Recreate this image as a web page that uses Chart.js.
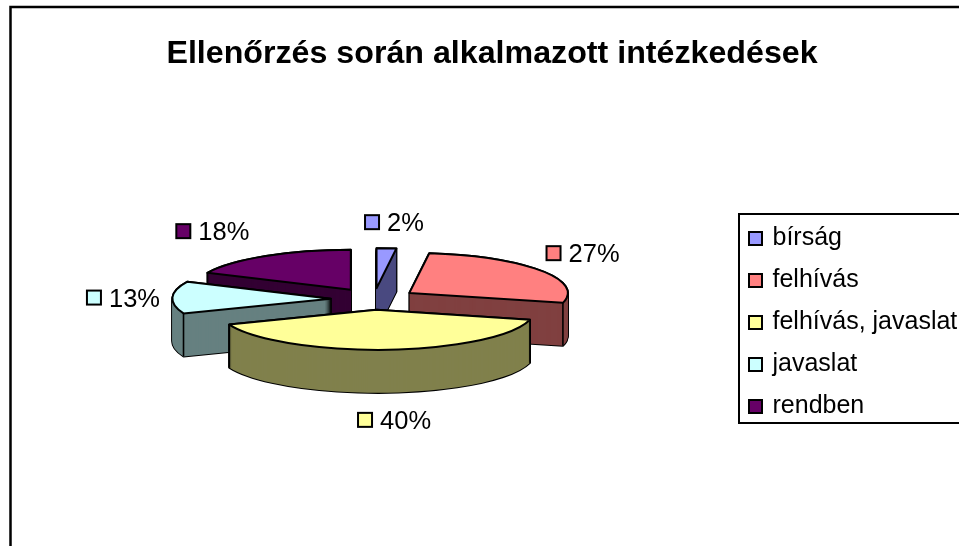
<!DOCTYPE html>
<html>
<head>
<meta charset="utf-8">
<style>html,body{margin:0;padding:0;background:#fff;overflow:hidden;width:959px;height:546px}canvas{display:block}</style>
<script src="https://cdn.jsdelivr.net/npm/chart.js@4/dist/chart.umd.min.js"></script>
</head>
<body>
<canvas id="c" width="964" height="546" style="width:964px;height:546px"></canvas>
<script>
const titleText = 'Ellenőrzés során alkalmazott intézkedések';
const categories = ['bírság', 'felhívás', 'felhívás, javaslat', 'javaslat', 'rendben'];
const values = [2, 27, 40, 13, 18];
const faceColors = ['#9999FF', '#FF8080', '#FFFF99', '#CCFFFF', '#660066'];
const sideColors = ['#4C4C80', '#804040', '#80804C', '#668080', '#330033'];
const paintOrder = [0, 4, 1, 3, 2];
const labelNudges = [[-22, 1], [-1, -2], [-29, 0], [-77, 1], [-85, -2]];

const FONT = '"Liberation Sans", Arial, sans-serif';
const SQUASH = 40 / 158.5, EXPLODE = 43, DEPTH = 43;

function slicePath(ctx, a, mid, d) {
  ctx.save();
  ctx.translate(a.x, a.y + d);
  ctx.scale(1, SQUASH);
  ctx.translate(Math.cos(mid) * EXPLODE, Math.sin(mid) * EXPLODE);
  ctx.beginPath();
  ctx.moveTo(0, 0);
  ctx.arc(0, 0, a.outerRadius, a.startAngle, a.endAngle);
  ctx.closePath();
  ctx.restore();
}

const pie3d = {
  id: 'pie3d',
  beforeDraw(chart) {
    const ctx = chart.ctx;
    ctx.save();
    ctx.strokeStyle = '#000';
    ctx.lineWidth = 2.5;
    ctx.strokeRect(10.5, 7, 3000, 3000);
    ctx.restore();
  },
  afterLayout(chart) {
    const l = chart.legend;
    l.left = 734; l.right = 734 + l.width;
    l.top = 209; l.bottom = 209 + l.height;
    const tb = chart.titleBlock;
    tb.left += 1.5; tb.right += 1.5;
  },
  beforeDatasetsDraw(chart) {
    const ctx = chart.ctx;
    const arcs = chart.getDatasetMeta(0).data;
    paintOrder.forEach(i => {
      const a = arcs[i];
      const mid = (a.startAngle + a.endAngle) / 2;
      ctx.save();
      ctx.lineJoin = 'round';
      ctx.strokeStyle = '#000';
      ctx.lineWidth = 2;
      for (let d = DEPTH; d >= 0; d--) { slicePath(ctx, a, mid, d); ctx.stroke(); }
      ctx.fillStyle = sideColors[i];
      for (let d = DEPTH; d >= 0; d--) { slicePath(ctx, a, mid, d); ctx.fill(); }
      // vertical edges at rim corners on the front half of the ellipse
      const ex = a.x + Math.cos(mid) * EXPLODE, ey = a.y + Math.sin(mid) * EXPLODE * SQUASH;
      ctx.lineWidth = 1.6;
      [a.startAngle, a.endAngle].forEach(t => {
        if (Math.sin(t) <= 0) return;
        const px = ex + Math.cos(t) * a.outerRadius, py = ey + Math.sin(t) * a.outerRadius * SQUASH;
        ctx.beginPath(); ctx.moveTo(px, py); ctx.lineTo(px, py + DEPTH); ctx.stroke();
      });
      // top face, drawn by the library's own arc element
      ctx.save();
      ctx.translate(a.x, a.y);
      ctx.scale(1, SQUASH);
      ctx.translate(-a.x, -a.y);
      ctx.translate(Math.cos(mid) * EXPLODE, Math.sin(mid) * EXPLODE);
      a.draw(ctx, chart.chartArea);
      ctx.restore();
      ctx.lineWidth = 2;
      slicePath(ctx, a, mid, 0);
      ctx.stroke();
      ctx.restore();
    });
    return false;
  },
  afterDraw(chart) {
    const ctx = chart.ctx;
    const arcs = chart.getDatasetMeta(0).data;
    ctx.save();
    ctx.font = '25.5px ' + FONT;
    ctx.textBaseline = 'middle';
    arcs.forEach((a, i) => {
      const t = (a.startAngle + a.endAngle) / 2;
      const c = Math.cos(t), s = Math.sin(t);
      const x = a.x + 210 * c + labelNudges[i][0];
      const y = a.y + 78 * s + (s > 0 ? DEPTH : 0) + labelNudges[i][1];
      ctx.fillStyle = faceColors[i];
      ctx.strokeStyle = '#000';
      ctx.lineWidth = 2;
      ctx.fillRect(x, y - 7, 14, 14);
      ctx.strokeRect(x, y - 7, 14, 14);
      ctx.fillStyle = '#000';
      ctx.fillText(values[i] + '%', x + 22, y + 2);
    });
    // legend frame
    const l = chart.legend;
    ctx.lineWidth = 2;
    ctx.strokeRect(l.left + 5, 214, 3000, 209);
    ctx.restore();
  }
};

new Chart(document.getElementById('c'), {
  type: 'pie',
  data: {
    labels: categories,
    datasets: [{ data: values, backgroundColor: faceColors, borderWidth: 0 }]
  },
  options: {
    responsive: false,
    animation: false,
    events: [],
    layout: { padding: { left: 17, right: 0, top: 0, bottom: 88.5 } },
    plugins: {
      tooltip: { enabled: false },
      title: {
        display: true,
        text: titleText,
        color: '#000',
        font: { family: FONT, size: 32.2, weight: 'bold' },
        padding: { top: 35, bottom: 66.9 }
      },
      legend: {
        display: true,
        position: 'right',
        align: 'start',
        maxWidth: 236,
        labels: {
          color: '#000',
          font: { family: FONT, size: 25 },
          boxWidth: 9,
          boxHeight: 13,
          usePointStyle: true,
          pointStyle: 'rect',
          padding: 17,
          generateLabels(chart) {
            return Chart.overrides.pie.plugins.legend.labels.generateLabels(chart)
              .map(it => Object.assign(it, { strokeStyle: '#000', lineWidth: 2, pointStyle: 'rect' }));
          }
        }
      }
    }
  },
  plugins: [pie3d]
});
</script>
</body>
</html>
